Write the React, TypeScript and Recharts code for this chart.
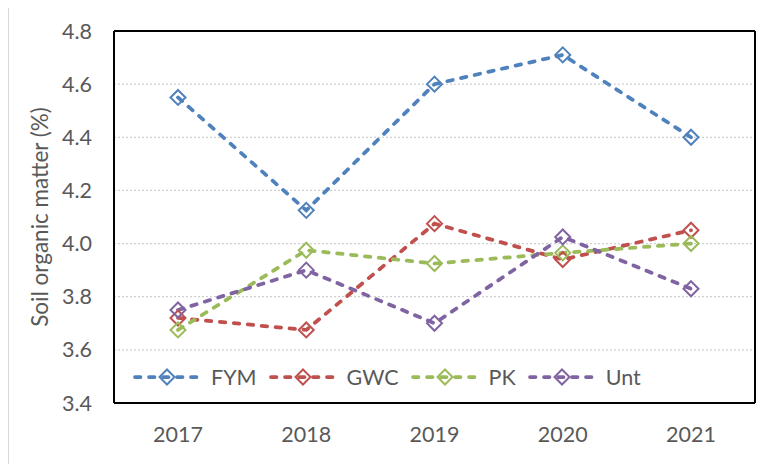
import { CartesianGrid, Legend, Line, LineChart, XAxis, YAxis } from 'recharts';

const years = ['2017', '2018', '2019', '2020', '2021'];
const fym = [4.55, 4.125, 4.6, 4.71, 4.4];
const gwc = [3.72, 3.675, 4.075, 3.94, 4.05];
const pk = [3.675, 3.975, 3.925, 3.965, 4.0];
const unt = [3.75, 3.9, 3.7, 4.025, 3.83];
const yTicks = [3.4, 3.6, 3.8, 4.0, 4.2, 4.4, 4.6, 4.8];

const SERIES = [
  { key: 'FYM', values: fym, color: '#4F81BD' },
  { key: 'GWC', values: gwc, color: '#C0504D' },
  { key: 'PK', values: pk, color: '#9BBB59' },
  { key: 'Unt', values: unt, color: '#8064A2' },
];

const data = years.map((year, i) => {
  const row: Record<string, string | number> = { year };
  SERIES.forEach((s) => {
    row[s.key] = s.values[i];
  });
  return row;
});

const TEXT = '#595959';
const DASH = '5.5 8.5';
const LINE_W = 3.75;

function Diamond({ cx, cy, stroke }: { cx?: number; cy?: number; stroke?: string }) {
  if (cx == null || cy == null) return null;
  const r = 7.5;
  return (
    <path
      d={`M${cx},${cy - r} L${cx + r},${cy} L${cx},${cy + r} L${cx - r},${cy} Z`}
      fill="none"
      stroke={stroke}
      strokeWidth={2}
    />
  );
}

function LegendContent() {
  return (
    <div style={{ display: 'flex', alignItems: 'center', whiteSpace: 'nowrap' }}>
      {SERIES.map((s) => (
        <div key={s.key} style={{ display: 'flex', alignItems: 'center', marginRight: 12 }}>
          <svg width={68} height={18}>
            <line
              x1={2}
              y1={9}
              x2={66}
              y2={9}
              stroke={s.color}
              strokeWidth={LINE_W}
              strokeDasharray={DASH}
              strokeLinecap="round"
            />
            <Diamond cx={34} cy={9} stroke={s.color} />
          </svg>
          <span style={{ marginLeft: 10, fontSize: 21.5, color: TEXT }}>{s.key}</span>
        </div>
      ))}
    </div>
  );
}

// plot-area frame, taken from the chart offset
const frameH = ({ offset }: any) => (offset ? [offset.top, offset.top + offset.height] : []);
const frameV = ({ offset }: any) => (offset ? [offset.left, offset.left + offset.width] : []);

export default function App() {
  return (
    <div
      style={{
        width: 764,
        height: 456,
        borderTop: '1px solid #d9d9d9',
        borderLeft: '1px solid #d9d9d9',
        marginTop: -1,
        fontFamily: 'Lato, sans-serif',
      }}
    >
      <LineChart width={763} height={455} data={data} margin={{ top: 23, right: 17, bottom: 0, left: 0 }}>
        <CartesianGrid vertical={false} stroke="#d0d0d0" strokeDasharray="2 2" strokeWidth={1.3} />
        <CartesianGrid
          horizontalCoordinatesGenerator={frameH}
          verticalCoordinatesGenerator={frameV}
          stroke="#000"
          strokeWidth={2}
        />
        <XAxis
          dataKey="year"
          height={60}
          padding={{ left: 64, right: 64 }}
          axisLine={{ stroke: '#000', strokeWidth: 2 }}
          tickLine={false}
          tickSize={0}
          tickMargin={24}
          tick={{ fontSize: 21.5, fill: TEXT }}
        />
        <YAxis
          domain={[3.4, 4.8]}
          ticks={yTicks}
          tickFormatter={(v: number) => v.toFixed(1)}
          width={105}
          axisLine={{ stroke: '#000', strokeWidth: 2 }}
          tickLine={false}
          tickSize={0}
          tickMargin={22}
          tick={{ fontSize: 21.5, fill: TEXT }}
          label={{
            value: 'Soil organic matter (%)',
            angle: -90,
            position: 'insideLeft',
            offset: 31,
            style: { textAnchor: 'middle', fontSize: 22.5, fill: TEXT },
          }}
        />
        <Legend
          layout="vertical"
          verticalAlign="middle"
          align="center"
          content={<LegendContent />}
          wrapperStyle={{ left: 124, top: 356, width: 'auto', height: 'auto' }}
        />
        {SERIES.map((s) => (
          <Line
            key={s.key}
            dataKey={s.key}
            stroke={s.color}
            strokeWidth={LINE_W}
            strokeDasharray={DASH}
            strokeLinecap="round"
            dot={<Diamond stroke={s.color} />}
            activeDot={false}
            isAnimationActive={false}
          />
        ))}
      </LineChart>
    </div>
  );
}
